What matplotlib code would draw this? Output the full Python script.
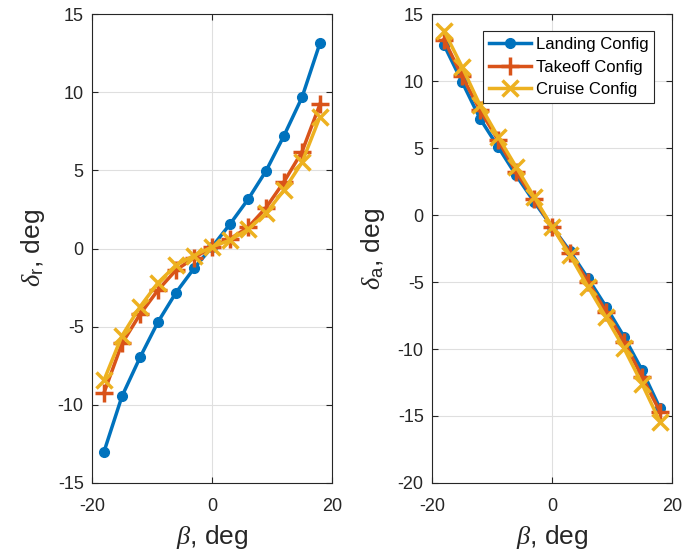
import matplotlib
matplotlib.use("Agg")
import matplotlib.pyplot as plt

beta = [-18, -15, -12, -9, -6, -3, 0, 3, 6, 9, 12, 15, 18]

dr_landing = [-13.0, -9.45, -6.97, -4.7, -2.82, -1.27, 0.1, 1.56, 3.14, 4.96, 7.22, 9.67, 13.15]
dr_takeoff = [-9.23, -6.07, -4.21, -2.66, -1.38, -0.6, 0.1, 0.62, 1.35, 2.61, 4.27, 6.19, 9.24]
dr_cruise = [-8.42, -5.58, -3.73, -2.19, -1.06, -0.45, 0.1, 0.54, 1.22, 2.25, 3.74, 5.51, 8.43]

da_landing = [12.69, 9.95, 7.2, 5.1, 2.98, 1.0, -0.87, -2.7, -4.73, -6.84, -9.08, -11.57, -14.43]
da_takeoff = [13.1, 10.37, 7.84, 5.6, 3.23, 1.2, -0.87, -2.86, -4.98, -7.21, -9.45, -12.07, -14.68]
da_cruise = [13.75, 11.07, 8.2, 5.85, 3.6, 1.37, -0.87, -3.0, -5.35, -7.63, -9.95, -12.6, -15.43]

labels = ["Landing Config", "Takeoff Config", "Cruise Config"]
colors = ["#0072BD", "#D95319", "#EDB120"]

plt.rcParams["font.family"] = ["Liberation Sans", "DejaVu Sans"]
plt.rcParams["mathtext.fontset"] = "custom"
plt.rcParams["mathtext.rm"] = "Liberation Sans"
plt.rcParams["mathtext.it"] = "Liberation Serif:italic"
plt.rcParams["axes.unicode_minus"] = False

fig = plt.figure(figsize=(6.83, 5.53), dpi=100)
ax1 = fig.add_axes([0.1347, 0.1266, 0.3514, 0.848])
ax2 = fig.add_axes([0.6325, 0.1266, 0.3514, 0.848])

def style(ax, ylim, yticks):
    ax.set_xlim(-20, 20)
    ax.set_ylim(*ylim)
    ax.set_xticks([-20, 0, 20])
    ax.set_yticks(yticks)
    ax.grid(True, color="#dfdfdf", linewidth=0.8)
    ax.set_axisbelow(True)
    ax.tick_params(direction="in", top=True, right=True, labelsize=13,
                   colors="#262626", length=4, width=0.8)
    ax.tick_params(axis="x", pad=10.5)
    ax.tick_params(axis="y", pad=6)
    for s in ax.spines.values():
        s.set_color("#262626")
        s.set_linewidth(0.8)
    ax.set_xlabel(r"$\beta$, deg", fontsize=19, color="#262626", labelpad=6)

def plot_sets(ax, ys):
    lw = 2.5
    ax.plot(beta, ys[0], color=colors[0], lw=lw, marker=".", markersize=14, label=labels[0])
    ax.plot(beta, ys[1], color=colors[1], lw=lw, marker="+", markersize=13, mew=2.5, label=labels[1])
    ax.plot(beta, ys[2], color=colors[2], lw=lw, marker="x", markersize=11, mew=2.5, label=labels[2])

plot_sets(ax1, [dr_landing, dr_takeoff, dr_cruise])
style(ax1, (-15, 15), [-15, -10, -5, 0, 5, 10, 15])
ax1.set_ylabel(r"$\delta_{\mathrm{r}}$, deg", fontsize=19, color="#262626", labelpad=8)

plot_sets(ax2, [da_landing, da_takeoff, da_cruise])
style(ax2, (-20, 15), [-20, -15, -10, -5, 0, 5, 10, 15])
ax2.set_ylabel(r"$\delta_{\mathrm{a}}$, deg", fontsize=19, color="#262626", labelpad=8)

leg = ax2.legend(loc="upper right", bbox_to_anchor=(0.925, 0.963), fontsize=12,
                 fancybox=False, framealpha=1, edgecolor="#262626",
                 handlelength=2.5, handletextpad=0.3, borderpad=0.35,
                 labelspacing=0.45, borderaxespad=0.0)
leg.get_frame().set_linewidth(0.8)

fig.savefig("out.png", dpi=100)
